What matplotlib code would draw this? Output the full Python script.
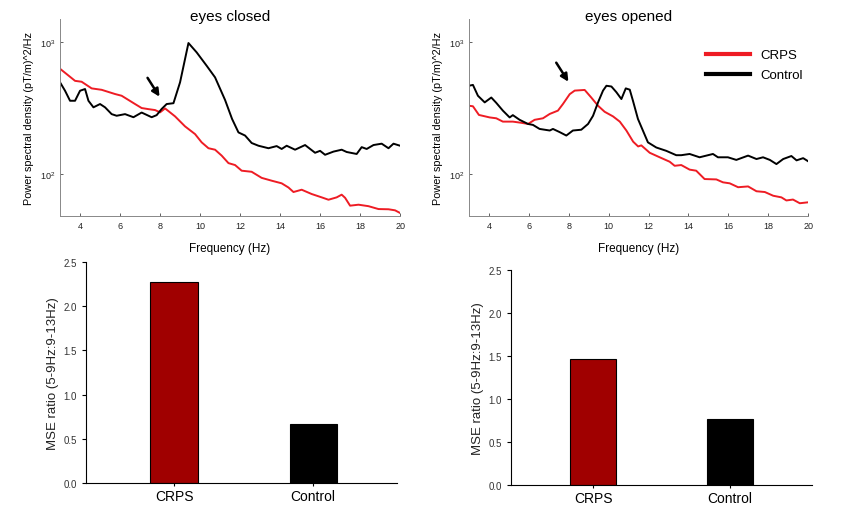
import matplotlib
matplotlib.use("Agg")
import matplotlib.pyplot as plt
from matplotlib.ticker import FixedLocator, NullLocator, FormatStrFormatter

plt.rcParams['font.family'] = ['Liberation Sans', 'DejaVu Sans']

# --- spectra, eyes closed ---
closed_crps_f = [3.0, 3.75, 4.08, 4.58, 5.08, 5.75, 6.08, 6.75, 7.08, 7.42, 7.75, 8.0, 8.25, 8.75,
                 9.25, 9.75, 10.08, 10.42, 10.75, 11.08, 11.42, 11.75, 12.08, 12.58, 13.08, 13.58,
                 14.08, 14.42, 14.67, 15.08, 15.58, 16.08, 16.42, 16.83, 17.08, 17.25, 17.5, 17.92,
                 18.42, 18.92, 19.42, 19.75, 20.0]
closed_crps_p = [630, 510, 502, 447, 436, 405, 393, 340, 317, 311, 306, 294, 315, 274,
                 230, 201, 174, 157, 153, 138, 121, 117, 106, 104, 93.5, 89,
                 85, 79, 73, 76, 70.5, 66.5, 63.8, 66.5, 69.7, 66, 57.5, 58.5,
                 57, 54.2, 54, 53, 50.6]

closed_ctrl_f = [3.0, 3.25, 3.5, 3.75, 4.0, 4.25, 4.42, 4.67, 5.0, 5.25, 5.58, 5.83, 6.25, 6.67,
                 7.08, 7.58, 7.83, 8.08, 8.33, 8.67, 9.0, 9.42, 9.83, 10.33, 10.75, 11.25, 11.6,
                 11.92, 12.25, 12.58, 12.92, 13.42, 13.83, 14.08, 14.33, 14.75, 15.25, 15.75, 16.0,
                 16.25, 16.67, 17.08, 17.33, 17.83, 18.08, 18.33, 18.67, 19.08, 19.42, 19.67, 20.0]
closed_ctrl_p = [497, 429, 360, 360, 429, 442, 360, 321, 340, 321, 285, 277, 285, 270,
                 293, 270, 280, 312, 340, 345, 497, 988, 839, 664, 542, 365, 262,
                 207, 196, 172, 164, 157, 163, 155, 164, 153, 166, 145, 150,
                 140, 148, 153, 147, 142, 160, 155, 166, 170, 157, 170, 164]

# --- spectra, eyes opened ---
opened_crps_f = [3.0, 3.2, 3.5, 4.04, 4.37, 4.7, 5.2, 5.62, 5.96, 6.29, 6.71, 7.05, 7.46, 7.71,
                 8.05, 8.3, 8.8, 9.13, 9.47, 9.8, 10.22, 10.56, 10.89, 11.23, 11.48, 11.64,
                 12.06, 12.56, 13.06, 13.31, 13.64, 14.06, 14.39, 14.81, 15.4, 15.73, 16.07,
                 16.49, 16.99, 17.41, 17.83, 18.25, 18.66, 18.91, 19.24, 19.58, 20.0]
opened_crps_p = [330, 327, 281, 269, 265, 250, 250, 245, 240, 258, 265, 286, 303, 340,
                 404, 430, 435, 381, 330, 297, 274, 250, 214, 176, 162, 165,
                 145, 134, 124, 115.5, 117, 108, 106, 91.6, 91, 86.5, 85,
                 79.4, 80.5, 74, 73, 68.4, 66.5, 63, 64, 60, 61]

opened_ctrl_f = [3.0, 3.2, 3.45, 3.79, 4.12, 4.37, 4.7, 5.04, 5.2, 5.54, 5.96, 6.21, 6.54, 7.05,
                 7.21, 7.55, 7.88, 8.21, 8.63, 8.97, 9.22, 9.47, 9.72, 9.89, 10.14, 10.39, 10.64,
                 10.86, 11.06, 11.22, 11.47, 11.97, 12.39, 12.89, 13.39, 13.64, 14.06, 14.56,
                 15.23, 15.48, 15.98, 16.4, 16.99, 17.41, 17.74, 18.08, 18.41, 18.75, 19.16,
                 19.42, 19.75, 20.0]
opened_ctrl_p = [468, 475, 393, 350, 381, 347, 303, 269, 280, 258, 240, 236, 220, 214,
                 220, 208, 196, 214, 217, 240, 277, 350, 430, 468, 462, 418, 371,
                 447, 437, 360, 262, 174, 159, 150, 139, 139, 142, 134,
                 142, 134, 134, 128, 138, 130, 134, 128, 119, 130, 137,
                 127, 132, 125]

# --- MSE ratio bars ---
groups = ['CRPS', 'Control']
ratio_closed = [2.27, 0.67]
ratio_opened = [1.46, 0.77]
bar_colors = ['#a00000', '#000000']

fig = plt.figure(figsize=(8.48, 5.10), dpi=100)

def spectrum_axes(rect, title, title_x, crps_f, crps_p, ctrl_f, ctrl_p, arrow_tail, arrow_head):
    ax = fig.add_axes(rect)
    ax.plot(crps_f, crps_p, color='#ee1c24', lw=1.4, label='CRPS')
    ax.plot(ctrl_f, ctrl_p, color='black', lw=1.4, label='Control')
    ax.set_yscale('log')
    ax.set_xlim(3, 20)
    ax.set_ylim(48, 1500)
    ax.xaxis.set_major_locator(FixedLocator(range(4, 21, 2)))
    ax.yaxis.set_minor_locator(NullLocator())
    ax.tick_params(direction='in', length=2, width=0.5, labelsize=6.5, colors='#222222')
    for side in ['top', 'right']:
        ax.spines[side].set_visible(False)
    for side in ['left', 'bottom']:
        ax.spines[side].set_color('#888888')
        ax.spines[side].set_linewidth(0.7)
    # title sits level with the top of the axes, as in the original figure
    ax.text(title_x, 1.015, title, transform=ax.transAxes, ha='center', va='center', fontsize=11)
    ax.set_xlabel('Frequency (Hz)', fontsize=8.5, labelpad=9)
    ax.set_ylabel('Power spectral density (pT/m)^2/Hz', fontsize=7.8, labelpad=4)
    ax.annotate('', xy=arrow_head, xytext=arrow_tail,
                arrowprops=dict(arrowstyle='-|>', color='black', lw=1.8, mutation_scale=11))
    return ax

spectrum_axes([0.0708, 0.5745, 0.401, 0.386], 'eyes closed', 0.5,
              closed_crps_f, closed_crps_p, closed_ctrl_f, closed_ctrl_p,
              (7.3, 560), (8.05, 371))
ax_open = spectrum_axes([0.553, 0.5745, 0.400, 0.386], 'eyes opened', 0.47,
                        opened_crps_f, opened_crps_p, opened_ctrl_f, opened_ctrl_p,
                        (7.3, 730), (8.06, 482))
leg = ax_open.legend(loc='upper right', bbox_to_anchor=(1.0, 0.875), frameon=False,
                     fontsize=9.5, handlelength=3.3, labelspacing=0.6, borderaxespad=0)
for line in leg.get_lines():
    line.set_linewidth(3)

def bar_axes(rect, values, xlim):
    ax = fig.add_axes(rect)
    ax.bar(range(len(groups)), values, width=0.34, color=bar_colors,
           edgecolor='black', linewidth=0.8)
    ax.set_xlim(*xlim)
    ax.set_ylim(0, 2.5)
    ax.set_xticks(range(len(groups)))
    ax.set_xticklabels(groups, fontsize=10)
    ax.set_yticks([0, 0.5, 1.0, 1.5, 2.0, 2.5])
    ax.yaxis.set_major_formatter(FormatStrFormatter('%.1f'))
    ax.tick_params(axis='y', direction='out', length=3, labelsize=7, labelcolor='#333333')
    ax.tick_params(axis='x', direction='out', length=2, pad=2)
    for side in ['top', 'right']:
        ax.spines[side].set_visible(False)
    ax.set_ylabel('MSE ratio (5-9Hz:9-13Hz)', fontsize=9.5, color='#222222', labelpad=3)
    return ax

bar_axes([0.1014, 0.051, 0.367, 0.433], ratio_closed, (-0.633, 1.604))
bar_axes([0.6026, 0.047, 0.355, 0.4216], ratio_opened, (-0.6, 1.6))

fig.savefig('out.png', dpi=100)
